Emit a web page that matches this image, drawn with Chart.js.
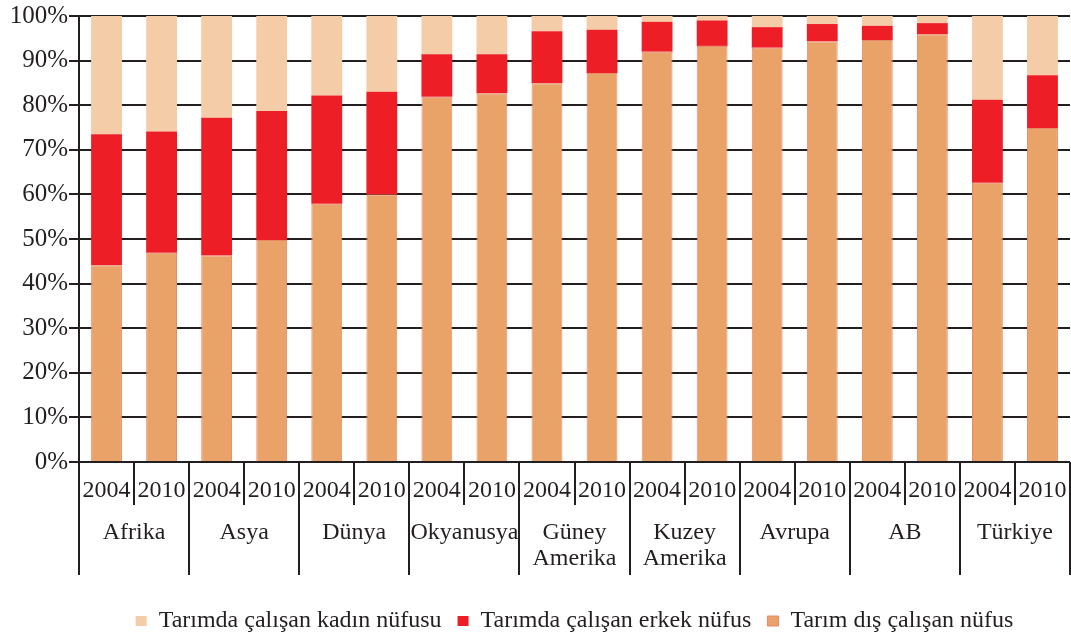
<!DOCTYPE html>
<html>
<head>
<meta charset="utf-8">
<script src="https://cdn.jsdelivr.net/npm/chart.js@4.4.0/dist/chart.umd.min.js"></script>
<style>
    html, body { margin: 0; padding: 0; background: #ffffff; }
    #wrap { position: relative; width: 1071px; height: 635px; }
</style>
</head>
<body>
<div id="wrap"><canvas id="employmentChart"></canvas></div>
<script>
// Regions (multi-line ones as arrays) and years
const regions = ['Afrika', 'Asya', 'Dünya', 'Okyanusya', ['Güney', 'Amerika'], ['Kuzey', 'Amerika'], 'Avrupa', 'AB', 'Türkiye'];
const years = ['2004', '2010'];

// Percent shares, one value per region/year bar
const tarimDisi = [44.1, 46.9, 46.3, 49.8, 57.9, 60.0, 81.9, 82.7, 84.9, 87.2, 92.0, 93.3, 92.9, 94.3, 94.6, 95.9, 62.6, 74.9];
const tarimErkek = [29.4, 27.2, 30.9, 28.9, 24.3, 23.0, 9.5, 8.7, 11.7, 9.7, 6.7, 5.7, 4.6, 3.9, 3.2, 2.5, 18.6, 11.8];
const tarimKadin = [26.5, 25.9, 22.8, 21.3, 17.8, 17.0, 8.6, 8.6, 3.4, 3.1, 1.3, 1.0, 2.5, 1.8, 2.2, 1.6, 18.8, 13.3];

const yTickStep = 10;

const SERIF = '"Liberation Serif", "DejaVu Serif", serif';
const INK = '#231F20';

// one category per bar: "Afrika 2004", "Afrika 2010", ...
const barLabels = regions.flatMap(r => years.map(y => [].concat(r).join(' ') + ' ' + y));

// keep legend at fixed height so the axis block lines up
const legendHeightPlugin = {
    id: 'legendHeight',
    beforeInit(chart) {
        const originalFit = chart.legend.fit;
        chart.legend.fit = function fit() {
            originalFit.bind(chart.legend)();
            this.height = 42;
        };
    }
};

// separator lines under the axis: short between years, long between regions
const separatorPlugin = {
    id: 'separators',
    afterDraw(chart) {
        const { ctx, chartArea: { bottom } } = chart;
        const xScale = chart.scales.x;
        const n = barLabels.length;
        ctx.save();
        ctx.strokeStyle = INK;
        ctx.lineWidth = 2;
        for (let i = 0; i <= n; i++) {
            const px = Math.round(xScale.getPixelForValue(i - 0.5));
            const len = (i % years.length === 0) ? 113 : 43;
            ctx.beginPath();
            ctx.moveTo(px, bottom);
            ctx.lineTo(px, bottom + len);
            ctx.stroke();
        }
        ctx.restore();
    }
};

const commonBar = {
    barPercentage: 0.56,
    categoryPercentage: 1.0
};

// x axes: no extra side padding for edge labels
const noSidePadding = height => scale => {
    scale.height = height;
    scale.paddingLeft = 0;
    scale.paddingRight = 0;
};

new Chart(document.getElementById('employmentChart'), {
    type: 'bar',
    data: {
        labels: barLabels,
        datasets: [
            {
                label: 'Tarım dış çalışan nüfus',
                data: tarimDisi,
                backgroundColor: '#E9A267',
                borderColor: '#E8896A',
                borderWidth: 1,
                ...commonBar
            },
            {
                label: 'Tarımda çalışan erkek nüfus',
                data: tarimErkek,
                backgroundColor: '#EE1E26',
                borderWidth: 0,
                ...commonBar
            },
            {
                label: 'Tarımda çalışan kadın nüfusu',
                data: tarimKadin,
                backgroundColor: '#F5CCA8',
                borderWidth: 0,
                ...commonBar
            }
        ]
    },
    options: {
        responsive: true,
        maintainAspectRatio: false,
        animation: false,
        layout: {
            padding: { top: 15, right: 1, left: 0, bottom: 0 }
        },
        plugins: {
            legend: {
                position: 'bottom',
                fullSize: false,
                reverse: true,
                labels: {
                    boxWidth: 11,
                    boxHeight: 10,
                    padding: 16,
                    color: INK,
                    font: { family: SERIF, size: 24 }
                }
            },
            tooltip: { enabled: false }
        },
        scales: {
            x: {
                stacked: true,
                offset: true,
                weight: 0,
                grid: { display: false, drawTicks: false },
                border: { display: false },
                ticks: {
                    autoSkip: false,
                    maxRotation: 0,
                    padding: 14,
                    color: INK,
                    font: { family: SERIF, size: 24 },
                    callback: (value, index) => years[index % years.length]
                },
                afterFit: noSidePadding(45)
            },
            x2: {
                type: 'category',
                labels: regions,
                position: 'bottom',
                offset: true,
                weight: 1,
                grid: { display: false, drawTicks: false },
                border: { display: false },
                ticks: {
                    autoSkip: false,
                    maxRotation: 0,
                    padding: 13,
                    color: INK,
                    font: { family: SERIF, size: 24, lineHeight: 1.08 }
                },
                afterFit: noSidePadding(86)
            },
            y: {
                stacked: true,
                min: 0,
                max: 100,
                grid: {
                    color: INK,
                    lineWidth: 2,
                    tickLength: 10
                },
                border: { display: true, color: INK, width: 2 },
                ticks: {
                    stepSize: yTickStep,
                    padding: 1,
                    color: INK,
                    font: { family: SERIF, size: 25 },
                    callback: v => v + '%'
                },
                afterFit: scale => { scale.width = 79; }
            }
        }
    },
    plugins: [legendHeightPlugin, separatorPlugin]
});
</script>
</body>
</html>
